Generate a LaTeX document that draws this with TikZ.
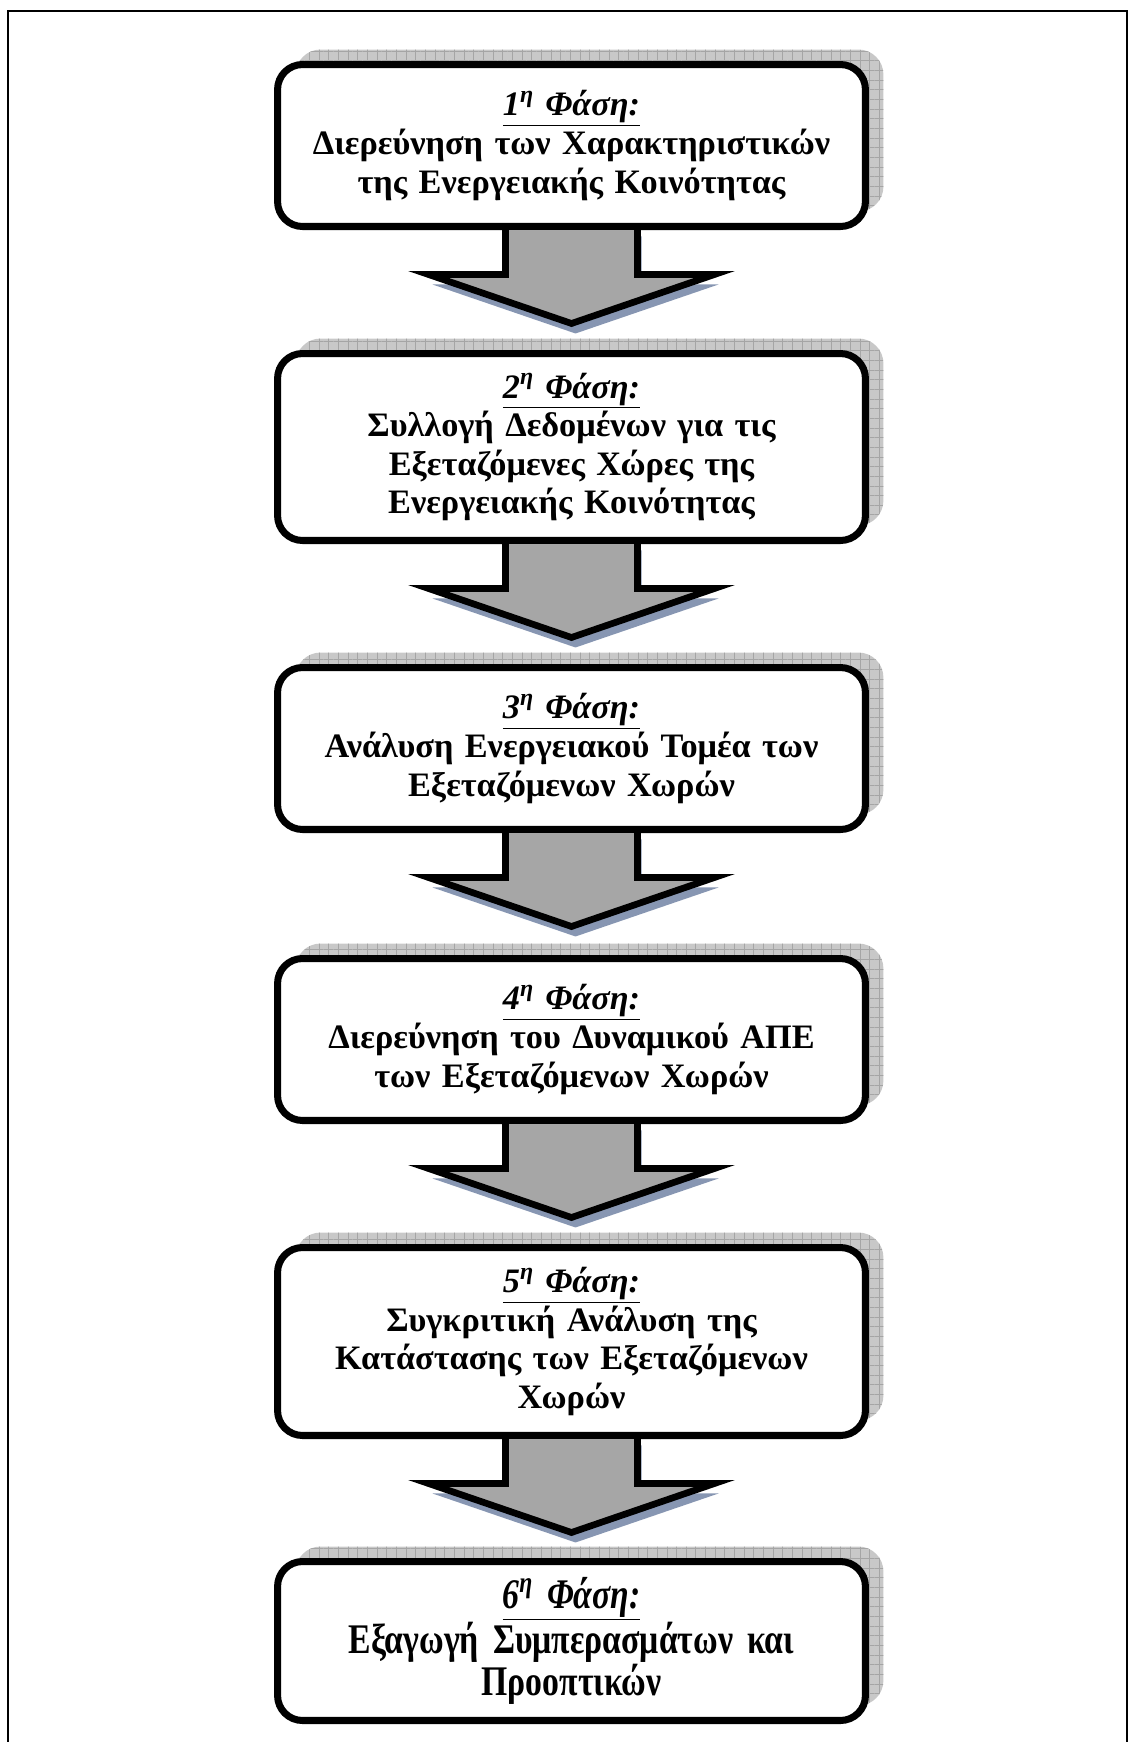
\documentclass[tikz,border=0pt]{standalone}
\usepackage{fontspec}
\setmainfont{Liberation Serif}
\newfontfamily\narrowserif[FakeStretch=0.8]{Liberation Serif}
\usetikzlibrary{calc,shadows,patterns.meta}

\definecolor{boxshade}{RGB}{200,200,200}
\definecolor{gridline}{RGB}{165,165,165}
\definecolor{arrowfill}{RGB}{166,166,166}
\definecolor{arrowshade}{RGB}{135,150,178}

\newcommand{\phasetitle}[1]{\underline{\textit{#1\textsuperscript{η} Φάση:}}\\}

\tikzset{
    phase/.style={draw, line width=4pt, fill=white, rounded corners=0.5cm,
        minimum width=11.76cm, text width=11cm, align=center, outer sep=0pt,
        font=\bfseries\fontsize{19.5}{22}\selectfont,
        drop shadow={shadow xshift=0.36cm, shadow yshift=0.3cm, fill=boxshade, opacity=1},
        drop shadow={shadow xshift=0.36cm, shadow yshift=0.3cm, opacity=1,
            pattern={Hatch[angle=0,distance=5.5pt,line width=0.3pt]}, pattern color=gridline}},
    phasearrow/.style={draw, line width=3.8pt, fill=arrowfill,
        drop shadow={shadow xshift=0.08cm, shadow yshift=-0.2cm, fill=arrowshade, opacity=1}}
}

\begin{document}
\begin{tikzpicture}[x=0.02cm, y=-0.02cm]
    \useasboundingbox (0,0) rectangle (1130,1742);
    % frame
    \draw[line width=0.8pt] (8,1742) -- (8,11) -- (1127,11) -- (1127,1742);

    % phases
    \node[phase, minimum height=3.24cm] (p1) at (571.5,145.5)
        {\phasetitle{1}Διερεύνηση των Χαρακτηριστικών\\της Ενεργειακής Κοινότητας};
    \node[phase, minimum height=3.74cm] (p2) at (571.5,447)
        {\phasetitle{2}Συλλογή Δεδομένων για τις\\Εξεταζόμενες Χώρες της\\Ενεργειακής Κοινότητας};
    \node[phase, minimum height=3.24cm] (p3) at (571.5,748.5)
        {\phasetitle{3}Ανάλυση Ενεργειακού Τομέα των\\Εξεταζόμενων Χωρών};
    \node[phase, minimum height=3.24cm] (p4) at (571.5,1039.5)
        {\phasetitle{4}Διερεύνηση του Δυναμικού ΑΠΕ\\των Εξεταζόμενων Χωρών};
    \node[phase, minimum height=3.76cm] (p5) at (571.5,1341.5)
        {\phasetitle{5}Συγκριτική Ανάλυση της\\Κατάστασης των Εξεταζόμενων\\Χωρών};
    \node[phase, minimum height=3.18cm, font=\narrowserif\bfseries\fontsize{24}{22}\selectfont] (p6) at (571.5,1641)
        {\phasetitle{6}Εξαγωγή Συμπερασμάτων και\\Προοπτικών};

    % arrows
    \foreach \a in {p1,p2,p3,p4,p5}
        \draw[phasearrow] ($(\a.south)+(-66,0)$) -- ($(\a.south)+(-66,48)$)
            -- ($(\a.south)+(-143,48)$) -- ($(\a.south)+(0,97)$)
            -- ($(\a.south)+(143,48)$) -- ($(\a.south)+(66,48)$)
            -- ($(\a.south)+(66,0)$) -- cycle;
\end{tikzpicture}
\end{document}
